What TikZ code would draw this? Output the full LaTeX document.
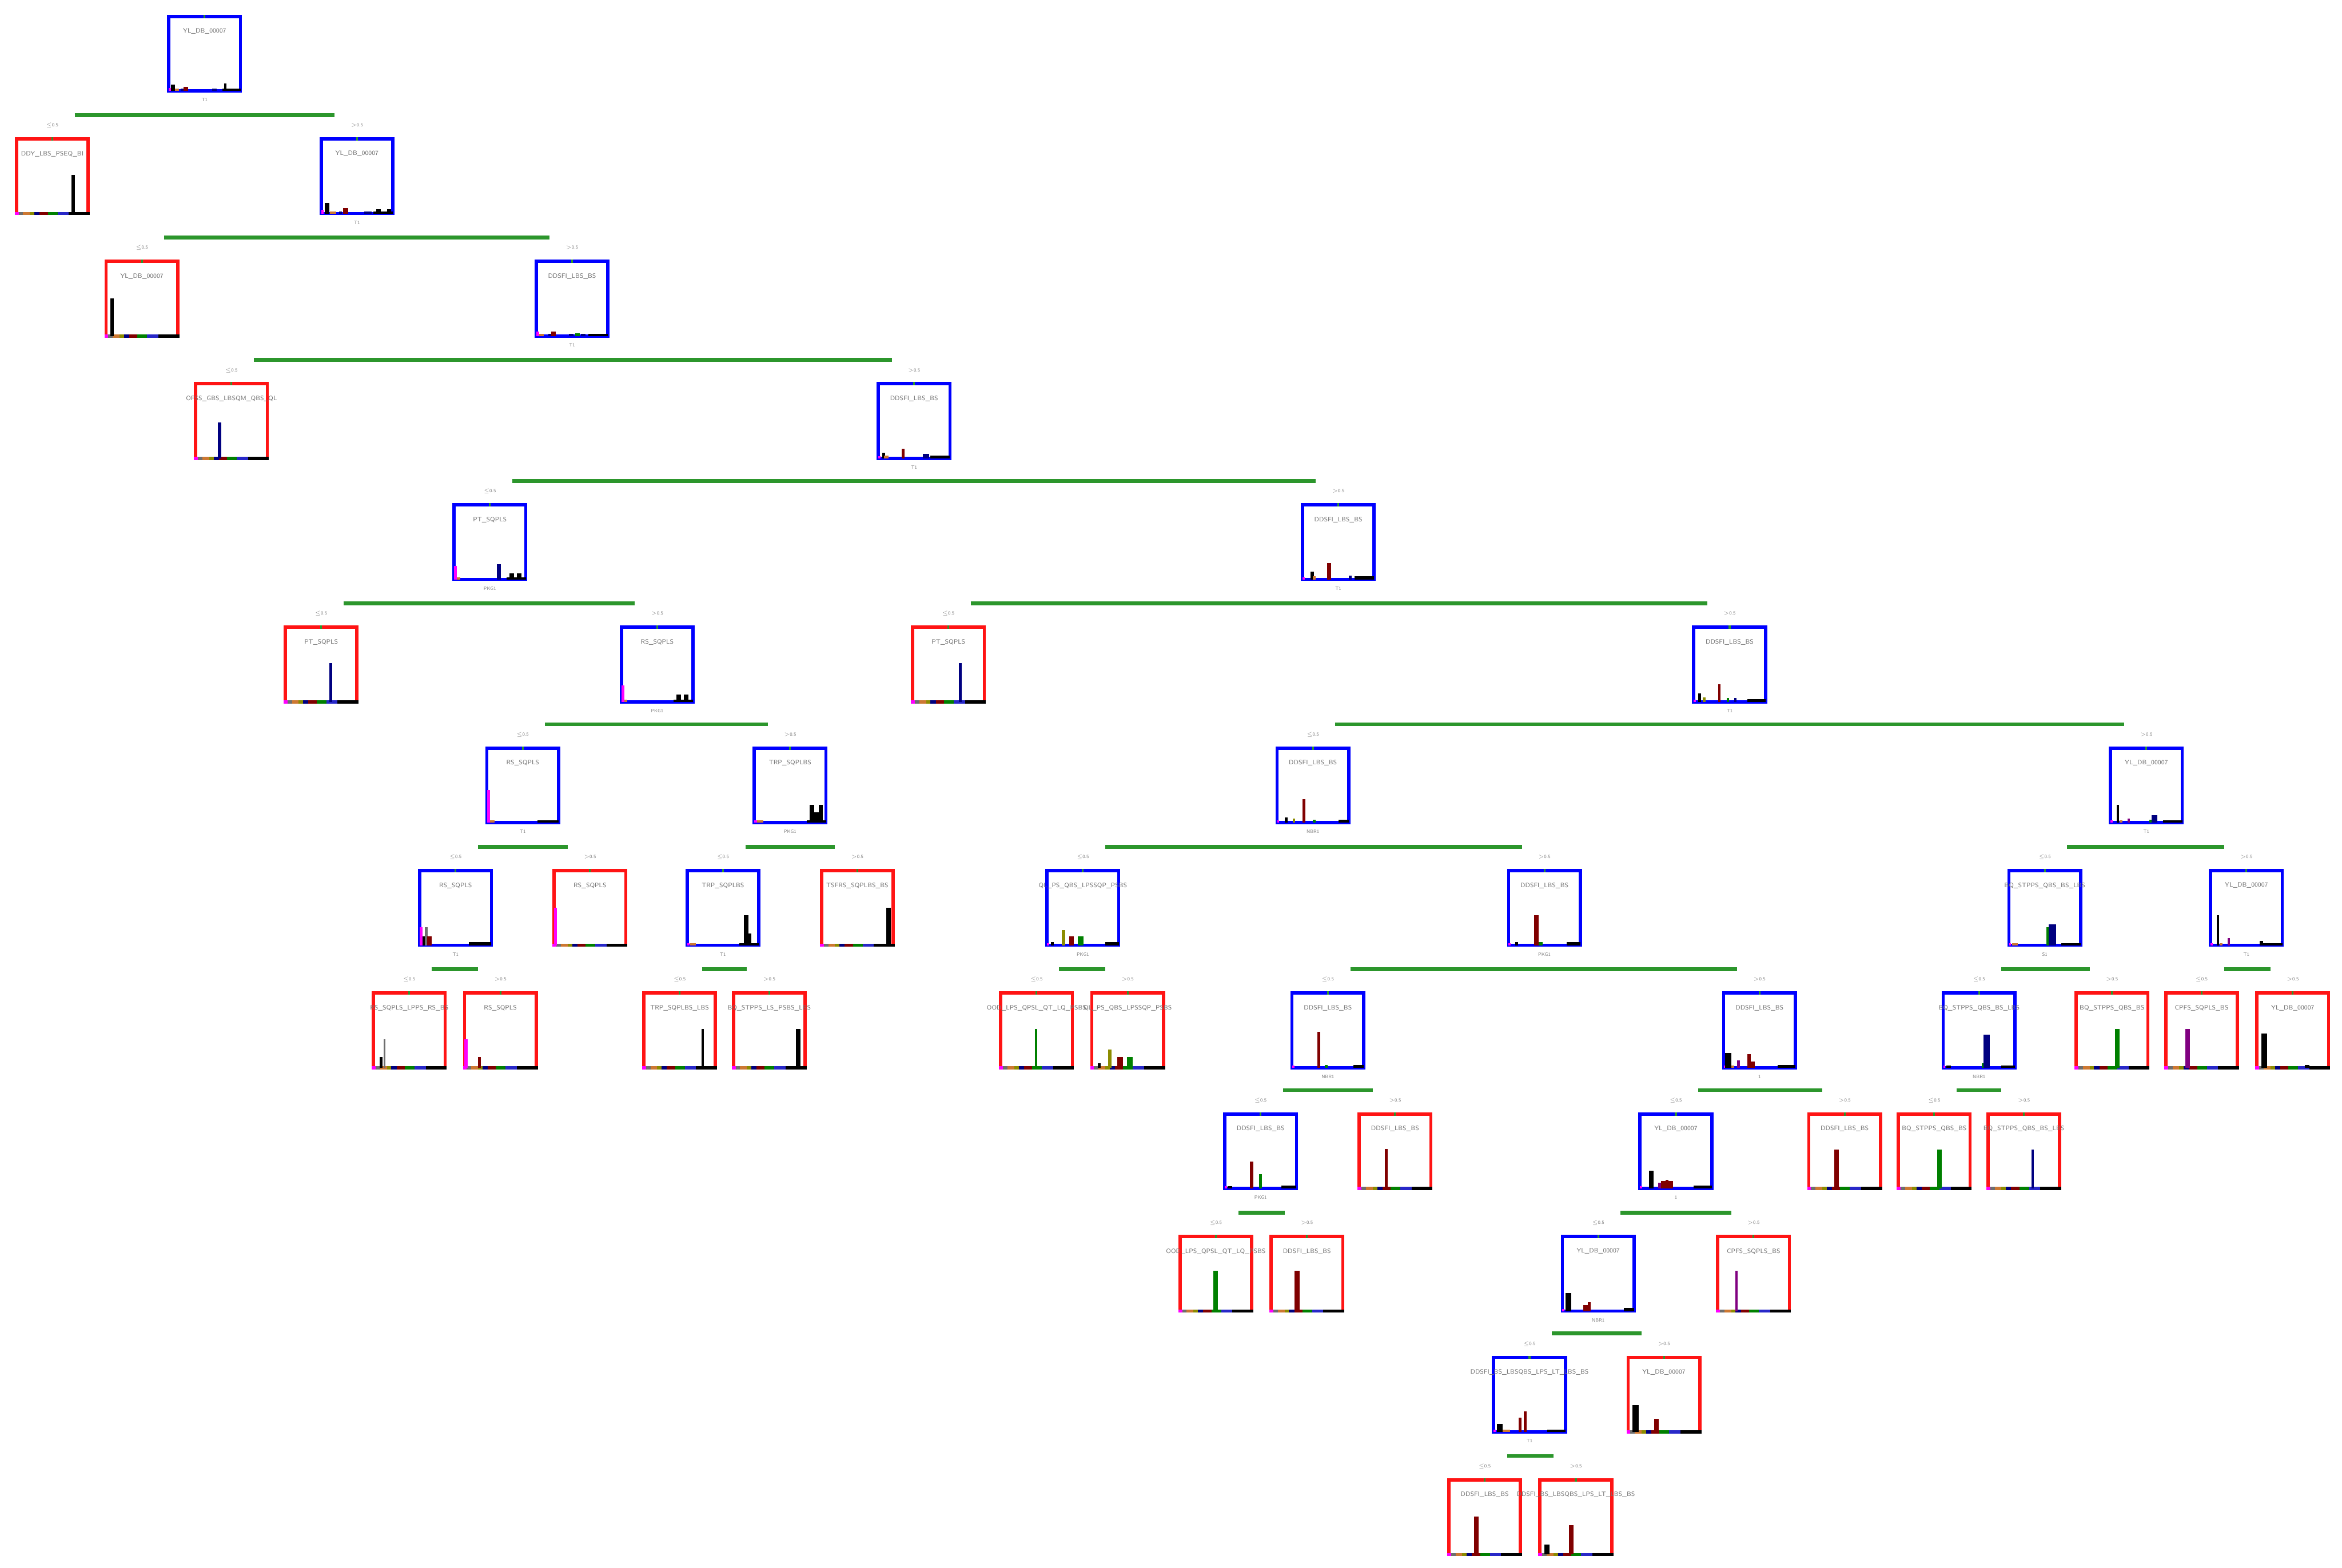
\documentclass[tikz,border=0pt]{standalone}
\usetikzlibrary{calc}

\definecolor{nodeblue}{RGB}{0,0,255}
\definecolor{leafred}{RGB}{255,20,20}
\definecolor{splitgreen}{RGB}{44,150,44}
\definecolor{cmag}{RGB}{255,0,255}
\definecolor{cgray}{RGB}{110,110,110}
\definecolor{cbrown}{RGB}{205,120,50}
\definecolor{colive}{RGB}{140,140,0}
\definecolor{cpurp}{RGB}{128,0,128}
\definecolor{cnavy}{RGB}{0,0,128}
\definecolor{cmaroon}{RGB}{128,0,0}
\definecolor{cgreen}{RGB}{0,128,0}
\definecolor{cblue}{RGB}{40,40,200}

\tikzset{
  splitbox/.style={draw=nodeblue, line width=0.11cm, minimum width=2.4cm,
    minimum height=2.5cm, inner sep=0pt, outer sep=0pt, anchor=north},
  leafbox/.style={splitbox, draw=leafred},
  ttl/.style={font=\fontsize{6}{7}\selectfont\sffamily, text=black!55},
  edgelbl/.style={font=\fontsize{4.5}{5}\selectfont\sffamily, text=black!50},
  featlbl/.style={font=\fontsize{4.5}{5}\selectfont\sffamily, text=black!50},
  axisline/.style={line width=0.11cm},
  splitline/.style={splitgreen, line width=0.13cm},
}

% bars of a node: x offset / width / height / colour
\newcommand{\hist}[2]{%
  \foreach \bx/\bw/\bh/\bc in {#2}
    {\fill[\bc] ([shift={(\bx,0)}]#1.south west) rectangle ++(\bw,-\bh);}}
\newcommand{\greentick}[1]{%
  \fill[splitgreen] ([shift={(-0.6,-1.1)}]#1.north) rectangle ++(1.2,2.2);}

\newcommand{\splitnode}[5]{%
  \node[splitbox] (#1) at (#2,#3) {};
  \node[ttl] (#1t) at ([yshift=-0.5cm]#1.north) {#4};
  \hist{#1}{#5}
  \greentick{#1}}

\newcommand{\leafnode}[5]{%
  \node[leafbox] (#1) at (#2,#3) {};
  \node[ttl] (#1t) at ([yshift=-0.5cm]#1.north) {#4};
  \foreach \ax/\ay/\ac in {-1.1/1.5/cmag,1.5/4.5/cgray,4.5/9/cbrown,9/12/colive,
      12/15.5/cnavy,15.5/21/cmaroon,21/27.5/cgreen,27.5/35/cblue,35/49.1/black}
    {\draw[axisline,\ac] ([shift={(\ax,0)}]#1.south west) -- ([shift={(\ay,0)}]#1.south west);}
  \hist{#1}{#5}
  \greentick{#1}}

\newcommand{\splitbar}[4]{%
  \draw[splitline] ([shift={(15,-16)}]#2.north) -- ([shift={(-15,-16)}]#3.north);
  \node[featlbl] (#1f) at ([yshift=-0.3cm]#1.south) {#4};
  \node[edgelbl] (#2e) at ([yshift=0.45cm]#2.north) {$\leq$0.5};
  \node[edgelbl] (#3e) at ([yshift=0.45cm]#3.north) {$>$0.5};}

\begin{document}
\begin{tikzpicture}[x=0.05cm, y=-0.05cm]
    \fill[white] (0,0) rectangle (1568,1050);
    \useasboundingbox (0,0) rectangle (1568,1050);

    % level 0 to 3
    \splitnode{n0}{137}{11}{YL\_DB\_00007}{0/1.5/2/cmag,1.5/2.5/4.5/black,4/3/1.5/cbrown,8/2/1.5/cnavy,10/3/3/cmaroon,29/3/1.5/cnavy,37/1.5/5/black,36/12/1.5/black}
    \leafnode{n1l}{35}{93}{DDY\_LBS\_PSEQ\_BI}{37/2/26/black}
    \splitnode{n1}{239}{93}{YL\_DB\_00007}{0/1.5/2.5/cmag,2.5/3/7/black,6/4/1.5/cbrown,12/2/1.5/cnavy,14.5/3.5/3.5/cmaroon,29/5/1.5/cnavy,37/3/3/black,44/3/3/black,35/13/1.5/black}
    \leafnode{n2l}{95}{175}{YL\_DB\_00007}{3/2/25/black}
    \splitnode{n2}{383}{175}{DDSFI\_LBS\_BS}{0/2/3/cmag,2/3/1.5/cbrown,8/2/1.5/cnavy,10/3/3/cmaroon,22/3/1.5/cnavy,26/3/2/cgreen,30/3/1.5/cnavy,35/13/1.5/black}
    \leafnode{n3l}{155}{257}{OFSS\_GBS\_LBSQM\_QBS\_QL}{15/2/24/cnavy}
    \splitnode{n3}{612}{257}{DDSFI\_LBS\_BS}{0/1.5/1.5/cmag,2.5/2/4/black,4/3/2/cbrown,15.5/2/6.5/cmaroon,30/4/3/cnavy,35/13/2/black}

    % level 4 to 6
    \splitnode{n4a}{328}{338}{PT\_SQPLS}{0/2/9/cmag,2/2/1.5/cbrown,28.5/3/10/cnavy,37/3/4/black,42/3/4/black,35/13/1.5/black}
    \splitnode{n4b}{896}{338}{DDSFI\_LBS\_BS}{0/1.5/1.5/cmag,5.5/2/5/black,7/2/2/cbrown,16.5/2.5/11/cmaroon,31/2/2.5/cnavy,35/13/2/black}
    \leafnode{n5a}{215}{420}{PT\_SQPLS}{29.5/2/26/cnavy}
    \splitnode{n5b}{440}{420}{RS\_SQPLS}{0/2/11/cmag,2/2/1.5/cbrown,37/3/5/black,42/3/5/black,35/13/1.5/black}
    \leafnode{n5c}{635}{420}{PT\_SQPLS}{31/2/26/cnavy}
    \splitnode{n5d}{1158}{420}{DDSFI\_LBS\_BS}{0/1.5/1.5/cmag,3/2/5.5/black,6/2/3/colive,16.4/1.5/11.7/cmaroon,22/1.5/2.5/cgreen,27/1.5/2.5/cnavy,36/12/2/black}
    \splitnode{n6a}{350}{501}{RS\_SQPLS}{0/2/22/cmag,2/3/1.5/cbrown,34/14/1.5/black}
    \splitnode{n6b}{529}{501}{TRP\_SQPLBS}{0/2/1.5/cmag,2/4/1.5/cbrown,37/3/12/black,40/3/7/black,43/3/12/black,35/13/1.5/black}
    \splitnode{n6c}{879}{501}{DDSFI\_LBS\_BS}{0/1.5/1.5/cmag,5/2/3.5/black,10.5/1.5/3/colive,17/2/16/cmaroon,24/2/2/cgreen,41/7/2/black}
    \splitnode{n6d}{1437}{501}{YL\_DB\_00007}{0/1.5/1.5/cmag,4/1.5/12/black,6/2/1.5/cbrown,11.5/1.5/3/cpurp,26/2/2/cgreen,27.5/4/5/cnavy,35/13/1.5/black}

    % level 7 and 8
    \splitnode{n7a}{305}{583}{RS\_SQPLS}{0/2/12/cmag,2/2/6/black,3.5/2/12/cgray,5/3/6/cmaroon,33/15/2/black}
    \leafnode{n7b}{395}{583}{RS\_SQPLS}{0/2/25/cmag}
    \splitnode{n7c}{484}{583}{TRP\_SQPLBS}{0/1.5/1.5/cmag,2/4/1.5/cbrown,38/3/20/black,41/2/8/black,35/13/1.5/black}
    \leafnode{n7d}{574}{583}{TSFRS\_SQPLBS\_BS}{43.5/3/25/black}
    \splitnode{n7e}{725}{583}{QL\_PS\_QBS\_LPSSQP\_PSBS}{0/1.5/1.5/cmag,2.5/2/2/black,10/2/10/colive,15/3/6/cmaroon,20.5/4/6/cgreen,39/9/2/black}
    \splitnode{n7f}{1034}{583}{DDSFI\_LBS\_BS}{0/1.5/1.5/cmag,4.5/2/2/black,17/3/20/cmaroon,20/3/2/cgreen,39/9/2/black}
    \splitnode{n7g}{1369}{583}{BQ\_STPPS\_QBS\_BS\_LBS}{0/1.5/1.5/cmag,2/4/1.5/cbrown,25/1.5/12/cgreen,26.5/5/14/cnavy,35/13/1.5/black}
    \splitnode{n7h}{1504}{583}{YL\_DB\_00007}{0/1.5/1.5/cmag,4/1.5/20/black,6/2/1.5/cbrown,11.5/1.5/5/cpurp,33/2/3/black,33/15/1.5/black}
    \leafnode{n8a}{274}{665}{RS\_SQPLS\_LPPS\_RS\_BS}{4/2/7/black,7/1/19/cgray}
    \leafnode{n8b}{335}{665}{RS\_SQPLS}{0/2/19/cmag,9/2/7/cmaroon}
    \leafnode{n8c}{455}{665}{TRP\_SQPLBS\_LBS}{38.6/1.5/26/black}
    \leafnode{n8d}{515}{665}{BQ\_STPPS\_LS\_PSBS\_LBS}{42/3/26/black}
    \leafnode{n8e}{694}{665}{OOD\_LPS\_QPSL\_QT\_LQ\_PSBS}{23/1.5/26/cgreen}
    \leafnode{n8f}{755}{665}{QL\_PS\_QBS\_LPSSQP\_PSBS}{4/2/3/black,11/2/12/colive,17/4/7/cmaroon,23.5/4/7/cgreen}
    \splitnode{n8g}{889}{665}{DDSFI\_LBS\_BS}{0/1.5/1.5/cmag,17/2/24/cmaroon,22/2/2/cgreen,41/7/2/black}
    \splitnode{n8h}{1178}{665}{DDSFI\_LBS\_BS}{0/1.5/1.5/cmag,1/4/10/black,5/2/1.5/cbrown,9/2/5/cpurp,16/2/9/cmaroon,18/3/4/cmaroon,36/12/2/black}
    \splitnode{n8i}{1325}{665}{BQ\_STPPS\_QBS\_BS\_LBS}{0/1.5/1.5/cmag,2/3/1.5/black,26/1.5/3/cgreen,27/4/22/cnavy,39/9/1.5/black}
    \leafnode{n8j}{1414}{665}{BQ\_STPPS\_QBS\_BS}{26/3/26/cgreen}
    \leafnode{n8k}{1474}{665}{CPFS\_SQPLS\_BS}{13/3/26/cpurp}
    \leafnode{n8l}{1535}{665}{YL\_DB\_00007}{3/4/23/black,32/3/2/black}

    % level 9 to 12
    \splitnode{n9a}{844}{746}{DDSFI\_LBS\_BS}{0/1.5/1.5/cmag,2/3/1.5/black,17/2/18/cmaroon,23/2/9.6/cgreen,38/10/2/black}
    \leafnode{n9b}{934}{746}{DDSFI\_LBS\_BS}{17/2/26.5/cmaroon}
    \splitnode{n9c}{1122}{746}{YL\_DB\_00007}{0/1.5/1.5/cmag,6/3/12/black,12/3/4/cpurp,14/8/5/cmaroon,17/2/6/cmaroon,36/12/2/black}
    \leafnode{n9d}{1235}{746}{DDSFI\_LBS\_BS}{17/3/26/cmaroon}
    \leafnode{n9e}{1295}{746}{BQ\_STPPS\_QBS\_BS}{26/3/26/cgreen}
    \leafnode{n9f}{1355}{746}{BQ\_STPPS\_QBS\_BS\_LBS}{29/1.5/26/cnavy}
    \leafnode{n10a}{814}{828}{OOD\_LPS\_QPSL\_QT\_LQ\_PSBS}{22.5/3/27/cgreen}
    \leafnode{n10b}{875}{828}{DDSFI\_LBS\_BS}{15.5/3.5/27/cmaroon}
    \splitnode{n10c}{1070}{828}{YL\_DB\_00007}{0/1.5/1.5/cmag,2/4/12/black,14/5/4/cmaroon,17/2/6/cmaroon,41/7/2/black}
    \leafnode{n10d}{1174}{828}{CPFS\_SQPLS\_BS}{12/1.5/27/cpurp}
    \splitnode{n11a}{1024}{909}{DDSFI\_BS\_LBSQBS\_LPS\_LT\_LBS\_BS}{0/1.5/1.5/cmag,2/4/5.4/black,6/5/1.5/cbrown,16.6/2/9.5/cmaroon,20/2/13.7/cmaroon,36/12/1.5/black}
    \leafnode{n11b}{1114}{909}{YL\_DB\_00007}{3/4/18/black,17.6/3/8.7/cmaroon}
    \leafnode{n12a}{994}{991}{DDSFI\_LBS\_BS}{17/3/25.6/cmaroon}
    \leafnode{n12b}{1055}{991}{DDSFI\_BS\_LBSQBS\_LPS\_LT\_LBS\_BS}{3/3.5/6.7/black,19.5/3/19.5/cmaroon}

    % splits
    \splitbar{n0}{n1l}{n1}{T1}
    \splitbar{n1}{n2l}{n2}{T1}
    \splitbar{n2}{n3l}{n3}{T1}
    \splitbar{n3}{n4a}{n4b}{T1}
    \splitbar{n4a}{n5a}{n5b}{PKG1}
    \splitbar{n4b}{n5c}{n5d}{T1}
    \splitbar{n5b}{n6a}{n6b}{PKG1}
    \splitbar{n5d}{n6c}{n6d}{T1}
    \splitbar{n6a}{n7a}{n7b}{T1}
    \splitbar{n6b}{n7c}{n7d}{PKG1}
    \splitbar{n6c}{n7e}{n7f}{NBR1}
    \splitbar{n6d}{n7g}{n7h}{T1}
    \splitbar{n7a}{n8a}{n8b}{T1}
    \splitbar{n7c}{n8c}{n8d}{T1}
    \splitbar{n7e}{n8e}{n8f}{PKG1}
    \splitbar{n7f}{n8g}{n8h}{PKG1}
    \splitbar{n7g}{n8i}{n8j}{S1}
    \splitbar{n7h}{n8k}{n8l}{T1}
    \splitbar{n8g}{n9a}{n9b}{NBR1}
    \splitbar{n8h}{n9c}{n9d}{1}
    \splitbar{n8i}{n9e}{n9f}{NBR1}
    \splitbar{n9a}{n10a}{n10b}{PKG1}
    \splitbar{n9c}{n10c}{n10d}{1}
    \splitbar{n10c}{n11a}{n11b}{NBR1}
    \splitbar{n11a}{n12a}{n12b}{T1}
\end{tikzpicture}
\end{document}
